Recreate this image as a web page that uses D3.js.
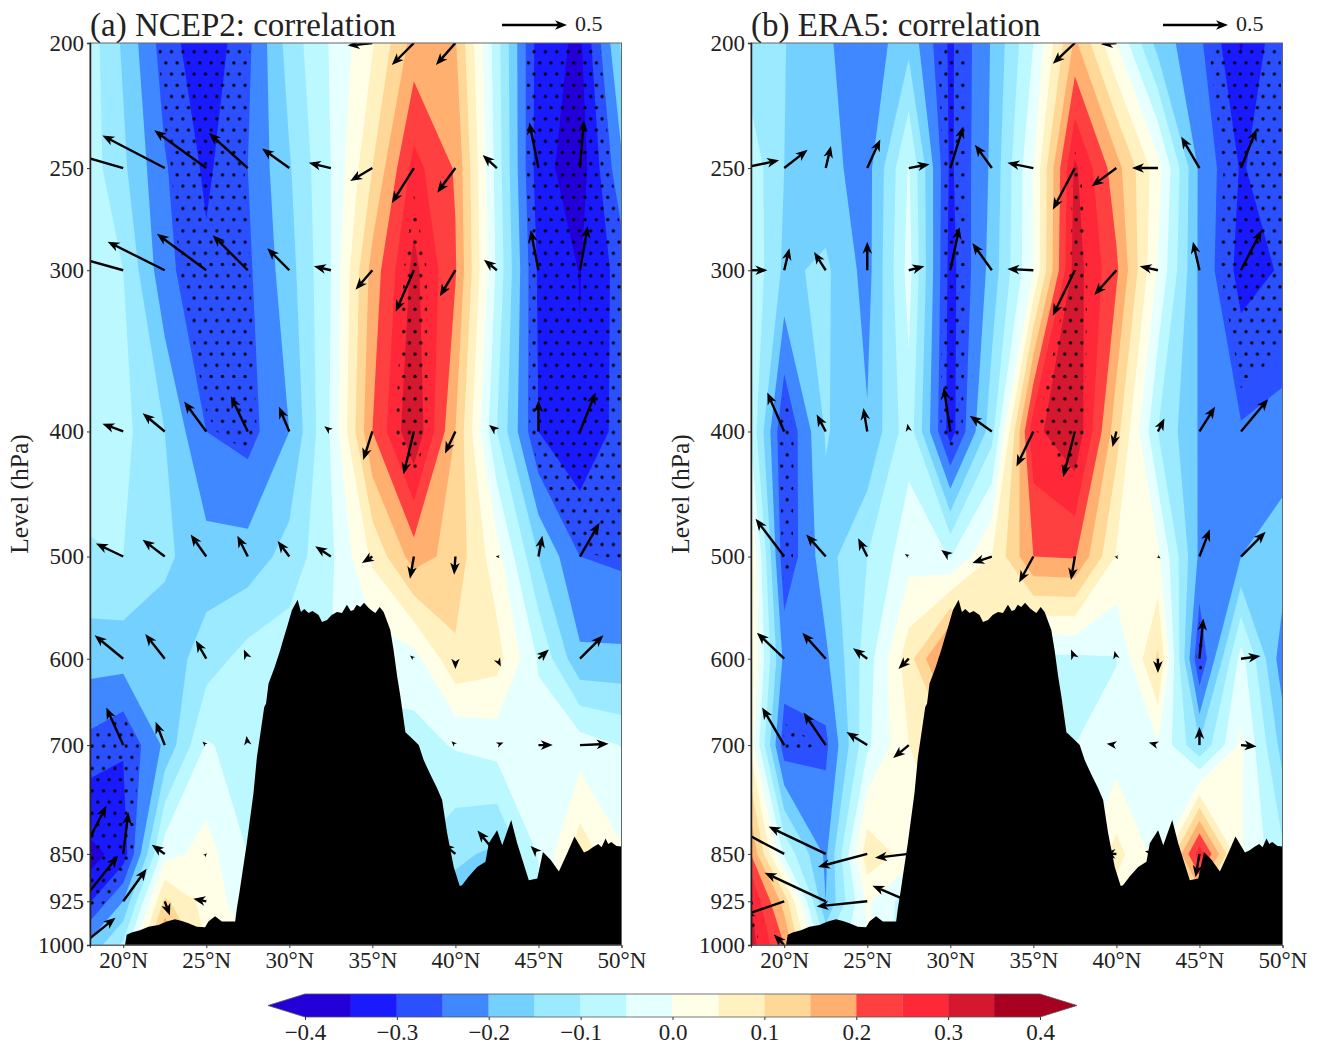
<!DOCTYPE html>
<html lang="en">
<head>
  <title>Correlation sections</title>
  <meta charset="UTF-8">
  <style>
    html, body { margin: 0; padding: 0; background: #fff; }
    svg text { font-family: "Liberation Serif", serif; fill: #222; }
  </style>
  <script src="https://cdn.jsdelivr.net/npm/d3@7"></script>
</head>
<body>
<script>
  var lats = [17.5, 20, 22.5, 25, 27.5, 30, 32.5, 35, 37.5, 40, 42.5, 45, 47.5, 50];
  var levels = [200, 250, 300, 400, 500, 600, 700, 850, 925, 1000];
  var latTicks = [20, 25, 30, 35, 40, 45, 50];

  var thresholds = [-0.35, -0.3, -0.25, -0.2, -0.15, -0.1, -0.05, 0, 0.05, 0.1, 0.15, 0.2, 0.25, 0.3, 0.35];
  var bandColors = ["#2400d8", "#1a1aff", "#2a50ff", "#4088ff", "#73d0ff", "#9beaff", "#bbf8ff", "#e6ffff",
                    "#ffffe8", "#fff2c0", "#ffd898", "#ffb070", "#ff4040", "#ff2838", "#d41830", "#a80020"];
  var barTicks = [-0.4, -0.3, -0.2, -0.1, 0, 0.1, 0.2, 0.3, 0.4];

  // correlation, one row per level (200 hPa first), one column per latitude
  var corrA = [
    [-0.056, -0.158, -0.275, -0.34, -0.262, -0.128, -0.045, 0.045, 0.17, 0.155, -0.08, -0.325, -0.36, -0.14],
    [-0.06, -0.14, -0.245, -0.31, -0.25, -0.155, -0.05, 0.1, 0.268, 0.195, -0.07, -0.33, -0.38, -0.21],
    [-0.085, -0.1, -0.235, -0.29, -0.26, -0.17, -0.05, 0.17, 0.315, 0.205, -0.06, -0.31, -0.352, -0.28],
    [-0.08, -0.085, -0.15, -0.25, -0.27, -0.2, -0.045, 0.2, 0.345, 0.15, -0.1, -0.3, -0.345, -0.28],
    [-0.105, -0.1, -0.14, -0.18, -0.18, -0.13, -0.06, 0.06, 0.174, 0.13, 0.02, -0.15, -0.25, -0.26],
    [-0.18, -0.18, -0.18, -0.125, -0.08, -0.07, -0.05, -0.03, -0.02, 0.09, 0.07, -0.055, -0.19, -0.19],
    [-0.26, -0.295, -0.19, -0.045, -0.07, -0.07, -0.07, -0.07, -0.07, -0.045, -0.03, -0.03, -0.025, -0.052],
    [-0.375, -0.33, -0.02, 0.02, -0.05, -0.07, -0.07, -0.07, -0.1, -0.14, -0.16, -0.047, 0.08, 0.006],
    [-0.33, -0.2, 0.11, 0.03, -0.03, -0.06, -0.07, -0.07, -0.1, -0.17, -0.18, -0.06, 0.05, 0],
    [-0.21, -0.09, 0.22, 0.05, 0, -0.05, -0.07, -0.07, -0.1, -0.17, -0.18, -0.06, 0.05, 0]
  ];
  var corrB = [
    [-0.113, -0.148, -0.192, -0.235, -0.165, -0.31, -0.195, -0.05, 0.16, 0, -0.17, -0.24, -0.355, -0.26],
    [-0.05, -0.15, -0.185, -0.22, -0.045, -0.31, -0.19, 0, 0.31, 0.17, 0.02, -0.21, -0.305, -0.265],
    [-0.036, -0.16, -0.14, -0.22, -0.03, -0.32, -0.18, 0, 0.325, 0.21, -0.005, -0.21, -0.32, -0.295],
    [0, -0.3, -0.145, -0.195, -0.07, -0.325, -0.12, 0.285, 0.345, 0.12, -0.1, -0.205, -0.245, -0.233],
    [0.145, -0.29, -0.17, -0.1, -0.02, -0.052, 0.05, 0.2, 0.205, 0.045, 0.01, -0.21, -0.2, -0.17],
    [0.127, -0.215, -0.21, -0.075, 0.08, 0.25, 0.1, -0.06, -0.06, -0.052, 0.11, -0.298, -0.03, -0.23],
    [0.105, -0.282, -0.262, -0.06, 0.05, 0.1, 0.05, -0.03, -0.05, -0.03, -0.002, -0.145, 0.011, -0.17],
    [0.263, -0.06, -0.21, 0.083, 0.03, 0.05, 0.02, -0.02, -0.02, 0.068, -0.02, 0.28, 0.005, -0.09],
    [0.34, 0.13, -0.2, 0.01, -0.08, 0, 0, -0.02, -0.02, 0.03, -0.02, 0.1, 0, -0.08],
    [0.35, 0.2, -0.1, 0, -0.08, 0, 0, -0.02, -0.02, 0.03, -0.02, 0.1, 0, -0.08]
  ];

  // wind regression components, same layout, last column has no arrows
  var uA = [
    [0, 0, 0, 0, 0, 0, 0, -0.19, -0.17, -0.15, 0, 0, 0, 0],
    [0, -0.42, -0.48, -0.4, -0.3, -0.21, -0.17, -0.17, -0.17, -0.14, -0.11, -0.07, 0.03, 0],
    [0, -0.4, -0.44, -0.38, -0.27, -0.17, -0.13, -0.13, -0.14, -0.12, -0.1, -0.06, 0.06, 0],
    [0, -0.16, -0.17, -0.17, -0.13, -0.08, -0.05, -0.07, -0.08, -0.08, -0.06, 0, 0.12, 0],
    [0, -0.21, -0.17, -0.12, -0.08, -0.09, -0.12, -0.08, -0.03, -0.01, -0.01, 0.03, 0.15, 0],
    [0, -0.22, -0.15, -0.08, -0.03, 0, 0, 0, -0.03, 0, 0.03, 0.08, 0.18, 0],
    [0, -0.13, -0.07, -0.03, -0.01, 0, 0, 0, 0, -0.03, 0.05, 0.11, 0.22, 0],
    [0.19, 0.04, -0.1, 0.005, 0, 0, 0, 0, 0, -0.1, -0.15, -0.06, 0, 0],
    [0.28, 0.18, 0.04, -0.1, 0, 0, 0, 0, 0, 0, 0, 0, 0, 0],
    [0.26, 0, 0, 0, 0, 0, 0, 0, 0, 0, 0, 0, 0, 0]
  ];
  var vA = [
    [0, 0, 0, 0, 0, 0, 0, -0.02, -0.17, -0.17, 0, 0, 0, 0],
    [0, 0.12, 0.25, 0.29, 0.27, 0.15, 0.04, -0.1, -0.27, -0.19, 0.1, 0.35, 0.37, 0],
    [0, 0.11, 0.22, 0.28, 0.27, 0.17, 0.03, -0.15, -0.32, -0.2, 0.08, 0.31, 0.34, 0],
    [0, 0.06, 0.14, 0.23, 0.27, 0.19, 0.04, -0.22, -0.33, -0.17, 0.05, 0.24, 0.3, 0],
    [0, 0.1, 0.13, 0.17, 0.16, 0.12, 0.08, -0.05, -0.17, -0.14, 0, 0.16, 0.26, 0],
    [0, 0.18, 0.19, 0.14, 0.07, 0, 0, 0, 0.025, -0.08, -0.06, 0.07, 0.18, 0],
    [0, 0.29, 0.18, 0.025, 0.07, 0, 0, 0, 0, 0.03, 0.02, 0, 0.01, 0],
    [0.37, 0.32, 0.07, 0.005, 0, 0, 0, 0, 0, 0.08, 0.18, 0.06, 0, 0],
    [0.35, 0.25, -0.11, 0.02, 0, 0, 0, 0, 0, 0, 0, 0, 0, 0],
    [0.21, 0, 0, 0, 0, 0, 0, 0, 0, 0, 0, 0, 0, 0]
  ];
  var uB = [
    [0, 0, 0, 0, 0, 0, 0, 0, -0.17, -0.12, 0, 0, 0, 0],
    [0.28, 0.18, 0.04, 0.1, 0.16, 0.1, -0.13, -0.2, -0.17, -0.19, -0.2, -0.14, 0.12, 0],
    [0.19, 0.04, -0.09, 0, 0.12, 0.07, -0.15, -0.2, -0.17, -0.17, -0.14, -0.05, 0.16, 0],
    [0, -0.13, -0.07, -0.03, -0.01, -0.05, -0.17, -0.13, -0.09, -0.03, 0.05, 0.12, 0.21, 0],
    [0, -0.22, -0.15, -0.07, -0.03, -0.07, -0.15, -0.11, -0.03, 0.01, 0.02, 0.08, 0.19, 0],
    [0, -0.21, -0.18, -0.11, -0.08, 0, 0, 0, -0.03, -0.015, 0, 0.03, 0.15, 0],
    [0, -0.17, -0.17, -0.16, -0.12, 0, 0, 0, 0, -0.075, -0.07, 0, 0.12, 0],
    [0, -0.4, -0.44, -0.38, -0.26, 0, 0, 0, 0, -0.1, -0.1, -0.03, 0, 0],
    [0, -0.32, -0.47, -0.39, -0.28, 0, 0, 0, 0, 0, 0, 0, 0, 0],
    [0, -0.08, 0, 0, 0, 0, 0, 0, 0, 0, 0, 0, 0, 0]
  ];
  var vB = [
    [0, 0, 0, 0, 0, 0, 0, 0, -0.16, -0.01, 0, 0, 0, 0],
    [0.06, 0.14, 0.17, 0.22, 0.03, 0.32, 0.18, 0.04, -0.32, -0.14, 0, 0.24, 0.3, 0],
    [0, 0.17, 0.14, 0.22, 0.03, 0.33, 0.21, 0.01, -0.35, -0.19, 0.03, 0.22, 0.31, 0],
    [0, 0.3, 0.13, 0.18, 0.06, 0.34, 0.12, -0.27, -0.35, -0.12, 0.1, 0.19, 0.25, 0],
    [0, 0.29, 0.17, 0.14, 0.02, 0.05, -0.05, -0.2, -0.18, -0.02, -0.015, 0.21, 0.19, 0],
    [0, 0.2, 0.2, 0.08, -0.08, 0, 0, 0, 0.07, 0.06, -0.11, 0.31, 0.02, 0],
    [0, 0.29, 0.25, 0.1, -0.1, 0, 0, 0, 0, 0.01, 0.02, 0.14, -0.01, 0],
    [0, 0.21, 0.21, -0.1, -0.03, 0, 0, 0, 0, 0, 0.02, -0.18, 0, 0],
    [0, -0.11, 0.22, -0.04, 0.12, 0, 0, 0, 0, 0, 0, 0, 0, 0],
    [0, 0.08, 0, 0, 0, 0, 0, 0, 0, 0, 0, 0, 0, 0]
  ];

  // surface pressure along the section
  var terrainLat = [
    20.11, 20.21, 20.51, 21.01, 21.52, 22.12, 22.62, 23.12, 23.53, 23.93, 24.43, 24.93, 25.13, 25.53, 25.94, 26.74,
    26.84, 27.0, 27.14, 27.44, 27.84, 28.05, 28.3, 28.49, 28.6, 28.75, 29.1, 29.45, 29.65, 29.9, 30.16,
    30.5, 30.7, 30.9, 31.16, 31.4, 31.76, 31.97, 32.27, 32.55, 32.87, 33.17, 33.47, 33.7, 33.87, 34.06, 34.27, 34.5,
    34.78, 35.0, 35.18, 35.44, 35.68,
    36.08, 36.28, 36.5, 36.69, 36.99, 37.3, 37.79, 38.09, 38.5, 38.9, 39.2,
    39.5, 39.9, 40.26, 40.4, 40.8, 41.31, 41.81, 42.01, 42.51, 42.82, 43.36, 43.72, 44.42, 44.93, 45.27, 45.73, 46.23,
    46.73, 47.17, 47.74, 48.0, 48.34, 48.6, 48.8, 49.04, 49.2, 49.38, 49.7, 50];
  var terrainP = [
    1000, 982, 978, 974, 968, 965, 959, 955, 958, 962, 968, 969, 959, 950, 959, 959,
    937, 910, 885, 834, 763, 715, 680, 654, 650, 627, 610, 591, 579, 565, 550,
    540, 552, 549, 553, 551, 555, 562, 560, 555, 552, 553, 545, 551, 550, 545, 547, 543,
    548, 551, 553, 547, 552,
    570, 591, 620, 642, 684, 690, 700, 719, 738, 756, 772,
    819, 870, 900, 899, 885, 870, 862, 834, 815, 837, 800, 834, 891, 888, 847, 859, 877,
    849, 824, 848, 845, 839, 835, 840, 827, 835, 832, 838, 839];

  var sigA = { neg: 0.255, pos: 0.28 };
  var sigB = { neg: 0.265, pos: 0.29 };
  var arrowRef = 0.5;

  var width = 531.5, height = 902;
  var x = d3.scaleLinear().domain([18, 50]).range([0, width]);
  var y = d3.scaleLog().domain([200, 1000]).range([0, height]);
  var arrowScale = d3.scaleLinear().domain([0, arrowRef]).range([0, 65]);

  // grid index -> pixel, contour coordinates sit half a cell off the index
  var xIndex = d3.scaleLinear().domain(d3.range(lats.length)).range(lats.map(x));
  var yIndex = d3.scaleLinear().domain(d3.range(levels.length)).range(levels.map(y));
  var gridPath = d3.geoPath(d3.geoTransform({
    point: function(cx, cy) { this.stream.point(xIndex(cx - 0.5), yIndex(cy - 0.5)); }
  }));

  var svg = d3.select("body").append("svg").attr("width", 1320).attr("height", 1048);

  makePanel(90, "a", "(a) NCEP2: correlation", corrA, uA, vA, sigA);
  makePanel(751, "b", "(b) ERA5: correlation", corrB, uB, vB, sigB);
  makeColorbar();

  function makePanel(left, id, title, corr, u, v, sig) {
    var g = svg.append("g").attr("transform", "translate(" + left + ",43)");
    var flat = d3.merge(corr);
    var contours = d3.contours().size([lats.length, levels.length]);

    var defs = g.append("defs");
    defs.append("clipPath").attr("id", "clip-" + id)
      .append("rect").attr("width", width).attr("height", height);

    var dots = defs.append("pattern").attr("id", "dots-" + id)
      .attr("patternUnits", "userSpaceOnUse")
      .attr("x", 2.2).attr("y", 8.7)
      .attr("width", 11.33).attr("height", 22.4);
    dots.append("circle").attr("cx", 0).attr("cy", 0).attr("r", 1.6);
    dots.append("circle").attr("cx", 11.33).attr("cy", 0).attr("r", 1.6);
    dots.append("circle").attr("cx", 0).attr("cy", 22.4).attr("r", 1.6);
    dots.append("circle").attr("cx", 11.33).attr("cy", 22.4).attr("r", 1.6);
    dots.append("circle").attr("cx", 5.665).attr("cy", 11.2).attr("r", 1.6);

    var plot = g.append("g").attr("clip-path", "url(#clip-" + id + ")");

    plot.append("rect").attr("width", width).attr("height", height).attr("fill", bandColors[0]);

    thresholds.forEach(function(t, i) {
      plot.append("path")
        .attr("d", gridPath(contours.contour(flat, t)))
        .attr("fill", bandColors[i + 1]);
    });

    // stippling where r passes the significance level
    plot.append("path")
      .attr("d", gridPath(contours.contour(flat, sig.pos)))
      .attr("fill", "url(#dots-" + id + ")");
    plot.append("path")
      .attr("d", gridPath(contours.contour(flat.map(function(d) { return -d; }), sig.neg)))
      .attr("fill", "url(#dots-" + id + ")");

    levels.forEach(function(level, r) {
      lats.forEach(function(lat, c) {
        if (u[r][c] === 0 && v[r][c] === 0) return;
        drawArrow(plot, x(lat), y(level), u[r][c], v[r][c]);
      });
    });

    var terrain = d3.area()
      .x(function(d, i) { return x(terrainLat[i]); })
      .y0(height)
      .y1(function(d) { return y(d); });
    plot.append("path").attr("d", terrain(terrainP)).attr("fill", "#000");

    // frame and axes
    g.append("rect").attr("width", width).attr("height", height)
      .attr("fill", "none").attr("stroke", "#666").attr("stroke-width", 1);

    var xAxis = g.append("g").attr("transform", "translate(0," + height + ")")
      .call(d3.axisBottom(x).tickValues(latTicks).tickSize(3).tickPadding(4)
        .tickFormat(function(d) { return d + "°N"; }));
    var yAxis = g.append("g")
      .call(d3.axisLeft(y).tickValues(levels).tickSize(3).tickPadding(3)
        .tickFormat(function(d) { return d; }));

    [xAxis, yAxis].forEach(function(a) {
      a.selectAll("text").style("font-size", "23px").style("font-family", "'Liberation Serif', serif");
      a.selectAll("line").attr("stroke", "#333");
    });
    xAxis.select(".domain").attr("stroke", "#666");
    yAxis.select(".domain").attr("stroke", "#222").attr("stroke-width", 1.5);

    g.append("text")
      .attr("transform", "translate(-62," + (height / 2) + ")rotate(-90)")
      .style("text-anchor", "middle")
      .style("font-size", "25.5px")
      .text("Level (hPa)");

    g.append("text").attr("x", 0).attr("y", -7)
      .style("font-size", "33px")
      .text(title);

    // reference arrow
    drawArrow(g, 412, -18, arrowRef, 0);
    g.append("text").attr("x", 485).attr("y", -12)
      .style("font-size", "22px")
      .text(arrowRef);
  }

  function drawArrow(parent, tx, ty, uVal, vVal) {
    var dx = arrowScale(uVal), dy = -arrowScale(vVal);
    var len = Math.sqrt(dx * dx + dy * dy);
    var hl = Math.min(12, Math.max(len, 4));
    var hw = hl * 0.4;
    var ux = dx / len, uy = dy / len;
    var hx = tx + dx, hy = ty + dy;
    var bx = hx - ux * hl, by = hy - uy * hl;
    var nx = hx - ux * hl * 0.72, ny = hy - uy * hl * 0.72;

    if (len > hl) {
      parent.append("line")
        .attr("x1", tx).attr("y1", ty).attr("x2", nx).attr("y2", ny)
        .attr("stroke", "#000").attr("stroke-width", 2.4);
    }
    parent.append("path")
      .attr("d", "M" + hx + "," + hy +
        "L" + (bx - uy * hw) + "," + (by + ux * hw) +
        "L" + nx + "," + ny +
        "L" + (bx + uy * hw) + "," + (by - ux * hw) + "Z")
      .attr("fill", "#000");
  }

  function makeColorbar() {
    var barX = d3.scaleLinear().domain([-0.4, 0.4]).range([305, 1040]);
    var top = 994, barH = 23, tip = 37;
    var g = svg.append("g");
    var edges = [-0.4].concat(thresholds, [0.4]);

    g.selectAll("rect")
      .data(bandColors)
      .enter()
      .append("rect")
      .attr("x", function(d, i) { return barX(edges[i]); })
      .attr("y", top)
      .attr("width", function(d, i) { return barX(edges[i + 1]) - barX(edges[i]); })
      .attr("height", barH)
      .attr("fill", function(d) { return d; });

    var leftEnd = barX(-0.4), rightEnd = barX(0.4);
    g.append("path")
      .attr("d", "M" + leftEnd + "," + top + "L" + (leftEnd - tip) + "," + (top + barH / 2) + "L" + leftEnd + "," + (top + barH) + "Z")
      .attr("fill", bandColors[0]);
    g.append("path")
      .attr("d", "M" + rightEnd + "," + top + "L" + (rightEnd + tip) + "," + (top + barH / 2) + "L" + rightEnd + "," + (top + barH) + "Z")
      .attr("fill", bandColors[15]);
    g.append("path")
      .attr("d", "M" + leftEnd + "," + top + "L" + (leftEnd - tip) + "," + (top + barH / 2) + "L" + leftEnd + "," + (top + barH) +
        "L" + rightEnd + "," + (top + barH) + "L" + (rightEnd + tip) + "," + (top + barH / 2) + "L" + rightEnd + "," + top + "Z")
      .attr("fill", "none").attr("stroke", "#555").attr("stroke-width", 0.8);

    var axis = g.append("g").attr("transform", "translate(0," + (top + barH) + ")")
      .call(d3.axisBottom(barX).tickValues(barTicks).tickSize(3).tickPadding(4).tickFormat(d3.format(".1f")));
    axis.select(".domain").remove();
    axis.selectAll("text").style("font-size", "23px").style("font-family", "'Liberation Serif', serif");
    axis.selectAll("line").attr("stroke", "#333");
  }
</script>
</body>
</html>
